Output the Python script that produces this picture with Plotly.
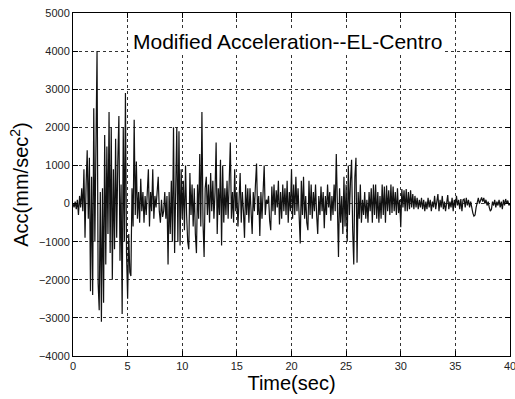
import plotly.graph_objects as go

dt = 0.1
acc = [
    0, -100, 50, -150, 100, -300, 200, -100, 400, -200,
    900, -900, 500, 1400, -400, 1200, -2300, 700, -2400, 2500,
    -1000, 1500, 4000, -2100, -2800, 300, -3100, 400, -2600, 1800,
    -1600, 1500, -800, 2400, -1300, 2000, -2000, 900, -1200, 1700,
    -900, 1100, 2300, -1500, 500, -2900, 2000, -1000, 2900, -1300,
    -2500, -800, -1800, -1900, 400, -600, 2200, -300, 1100, -400,
    300, -500, 650, -200, 300, -500, 200, -300, 400, 900,
    -600, 300, -200, 900, -400, 200, -100, 300, 700, -200,
    -500, 100, -350, -200, 300, -400, 200, -1600, 300, -800,
    600, -1000, 2000, -1300, 800, 2000, -1000, 1900, -1100, 900,
    -400, 600, -700, 1000, -300, -1000, -1200, 800, -300, 500,
    -600, 400, -800, -1300, 500, -400, 1300, -600, 2400, -500,
    -1400, 400, 700, -300, 500, -500, 800, -200, 600, -400,
    300, 1600, -800, 400, -300, 1150, -1100, 1000, -500, 400,
    -300, 600, -400, 700, 1600, -400, 300, -500, 900, -200,
    300, -600, 400, 800, -500, 300, -200, -900, 500, -300,
    400, -500, 400, -200, -800, 300, -200, 500, 1050, -300,
    200, -850, 300, -400, 400, 1000, -300, 100, 0, 200,
    -450, -700, 450, -200, 500, -300, 350, -100, 600, -550,
    300, -400, 500, -200, 400, -300, 600, -500, 300, -200,
    900, -400, 500, -300, 700, -200, 400, -600, -1050, 600,
    -300, 700, -400, 200, -500, -700, 600, -300, 500, -400,
    300, -200, 500, -300, -800, 200, -300, 450, -200, 300,
    -650, 200, -300, 500, -100, 300, -450, 200, -300, 500,
    -200, 1300, -600, -1400, 400, -500, 200, -800, 700, -600,
    500, -1000, 1000, -300, 600, 1150, -700, -1600, 700, 1200,
    -1550, 300, -400, 500, -500, 100, -300, 300, -400, 100,
    -500, 300, -200, 400, -500, 500, -300, 500, -400, 300,
    -500, 200, -400, 500, -300, 450, -500, 470, -200, 350,
    -300, 500, -250, 450, -200, 300, -300, 400, -250, 100,
    -620, 380, -100, 350, -200, 380, -200, 300, -150, 350,
    -100, 250, -150, 200, -100, 150, -150, 100, -100, 150,
    -150, 100, -200, 50, -150, 150, -100, 100, -200, 50,
    -100, 200, -150, 100, 250, -200, 100, -100, 200, -150,
    50, -200, 100, 220, -150, 50, -100, 150, -200, 100,
    -100, 200, -50, 100, -150, 120, -200, 100, 120, -100,
    150, -50, 100, -100, 50, -150, -250, -330, -300, -100,
    50, 150, 0, 100, 160, 50, 150, 0, 100, -50,
    50, -100, -200, -150, 50, -50, 100, -100, 50, -50,
    100, -100, 50, -150, 100, -50, 120, 0, 80, -50,
    0,
]
time = [round(i * dt, 2) for i in range(len(acc))]

x_ticks = [0, 5, 10, 15, 20, 25, 30, 35, 40]
y_ticks = [-4000, -3000, -2000, -1000, 0, 1000, 2000, 3000, 4000, 5000]
title_text = "Modified Acceleration--EL-Centro"

FONT = "Liberation Sans, Arial"

fig = go.Figure()
fig.add_trace(go.Scatter(x=time, y=acc, mode="lines",
                         line=dict(color="#111111", width=1.2),
                         showlegend=False, hoverinfo="skip"))

axis_common = dict(showline=True, linecolor="black", linewidth=1, mirror="ticks",
                   ticks="inside", ticklen=5, tickcolor="black",
                   showgrid=True, gridcolor="#333333", griddash="dot", gridwidth=1,
                   zeroline=False, ticklabeloverflow="allow", automargin=False,
                   tickfont=dict(family=FONT, size=11, color="#222"))

fig.update_xaxes(range=[0, 40], tickvals=x_ticks, ticktext=[str(v) for v in x_ticks],
                 **axis_common,
                 title=dict(text="Time(sec)", standoff=3,
                            font=dict(family=FONT, size=20, color="black")))
fig.update_yaxes(range=[-4000, 5000], tickvals=y_ticks, **axis_common,
                 title=dict(text="Acc(mm/sec<sup>2</sup>)", standoff=4,
                            font=dict(family=FONT, size=20, color="black")))

fig.add_annotation(x=19.6, y=4250, text=title_text, showarrow=False,
                   font=dict(family=FONT, size=21, color="black"),
                   bgcolor="white")

fig.update_layout(width=515, height=399, margin=dict(l=73, r=5, t=13, b=43),
                  plot_bgcolor="white", paper_bgcolor="white")

fig.write_html("out.html")
